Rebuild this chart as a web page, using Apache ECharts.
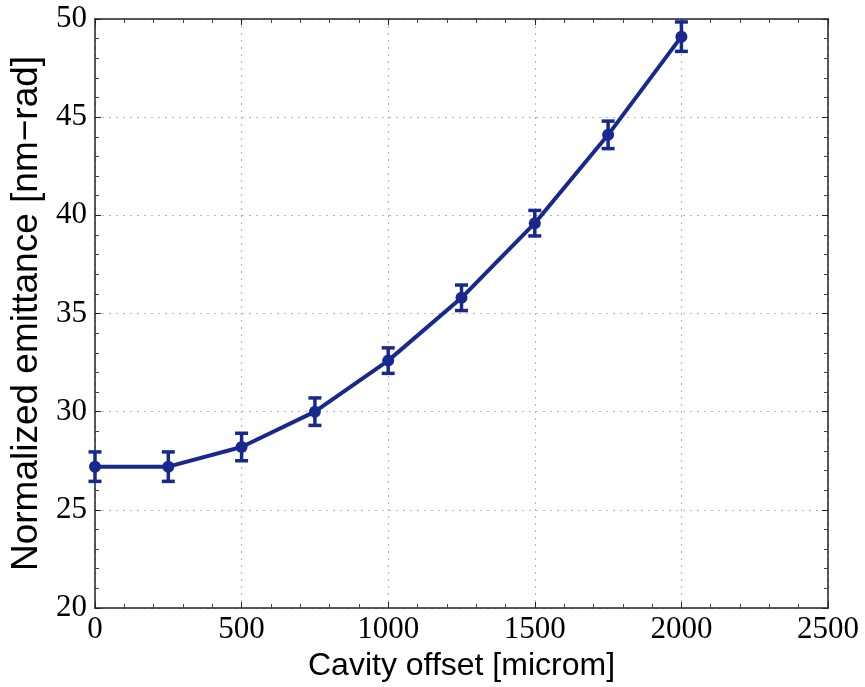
<!DOCTYPE html>
<html>
<head>
<meta charset="utf-8">
<script src="https://cdn.jsdelivr.net/npm/echarts@6/dist/echarts.min.js"></script>
<style>
  html, body { margin: 0; padding: 0; background: #ffffff; }
  #chart { width: 865px; height: 687px; }
</style>
</head>
<body>
<div id="chart"></div>
<script>
// cavity offset [microm]
var offsets = [0, 250, 500, 750, 1000, 1250, 1500, 1750, 2000];
// normalized emittance [nm-rad]
var emittance = [27.2, 27.2, 28.2, 30.0, 32.6, 35.8, 39.6, 44.1, 49.1];
// half height of the error bars
var errors = [0.75, 0.75, 0.7, 0.7, 0.65, 0.65, 0.65, 0.7, 0.75];
var xTicks = [0, 500, 1000, 1500, 2000, 2500];
var yTicks = [20, 25, 30, 35, 40, 45, 50];

var lineColor = "#18288f";
var serif = "'Liberation Serif', 'DejaVu Serif', serif";
var sans = "'Liberation Sans', Arial, sans-serif";

var chart = echarts.init(document.getElementById("chart"));

var lineData = offsets.map(function(x, i) {
  return [x, emittance[i]];
});
var errData = offsets.map(function(x, i) {
  return [x, emittance[i] - errors[i], emittance[i] + errors[i]];
});

function axisBase(pos, ticks, showLabels) {
  return {
    type: "value",
    position: pos,
    min: ticks[0],
    max: ticks[ticks.length - 1],
    interval: ticks[1] - ticks[0],
    axisLine: { show: true, onZero: false, lineStyle: { color: "#222", width: 1.5 } },
    axisTick: { show: true, inside: true, length: 6, lineStyle: { color: "#222", width: 1 } },
    minorTick: { show: true, splitNumber: 5, length: 4, lineStyle: { color: "#444", width: 1 } },
    axisLabel: {
      show: showLabels,
      color: "#000",
      fontFamily: serif,
      fontSize: 31,
      formatter: function(v) { return String(v); }
    },
    splitLine: {
      show: showLabels,
      lineStyle: { color: "#b8b8b8", type: [2, 5], width: 1.2 }
    }
  };
}

var xBottom = axisBase("bottom", xTicks, true);
xBottom.axisLabel.margin = 6;
xBottom.name = "Cavity offset [microm]";
xBottom.nameLocation = "middle";
xBottom.nameGap = 40;
xBottom.nameTextStyle = { color: "#000", fontFamily: sans, fontSize: 32 };

var xTop = axisBase("top", xTicks, false);

var yLeft = axisBase("left", yTicks, true);
yLeft.axisLabel.margin = 8;
yLeft.name = "Normalized emittance [nm\u2212rad]";
yLeft.nameLocation = "middle";
yLeft.nameGap = 50;
yLeft.nameTextStyle = { color: "#000", fontFamily: sans, fontSize: 37 };

var yRight = axisBase("right", yTicks, false);

chart.setOption({
  backgroundColor: "#ffffff",
  animation: false,
  grid: { left: 93, right: 37, top: 19, bottom: 79 },
  xAxis: [xBottom, xTop],
  yAxis: [yLeft, yRight],
  series: [
    {
      name: "emittance",
      type: "line",
      xAxisIndex: 0,
      yAxisIndex: 0,
      data: lineData,
      symbol: "circle",
      symbolSize: 12,
      itemStyle: { color: lineColor },
      lineStyle: { color: lineColor, width: 4 },
      z: 3
    },
    {
      name: "error",
      type: "custom",
      xAxisIndex: 0,
      yAxisIndex: 0,
      data: errData,
      renderItem: function(params, api) {
        var x = api.value(0);
        var lo = api.coord([x, api.value(1)]);
        var hi = api.coord([x, api.value(2)]);
        var w = 6.5;
        var style = { stroke: lineColor, lineWidth: 3.5 };
        return {
          type: "group",
          children: [
            { type: "line", shape: { x1: lo[0], y1: lo[1], x2: hi[0], y2: hi[1] }, style: style },
            { type: "line", shape: { x1: lo[0] - w, y1: lo[1], x2: lo[0] + w, y2: lo[1] }, style: style },
            { type: "line", shape: { x1: hi[0] - w, y1: hi[1], x2: hi[0] + w, y2: hi[1] }, style: style }
          ]
        };
      },
      z: 2
    }
  ]
});
</script>
</body>
</html>
